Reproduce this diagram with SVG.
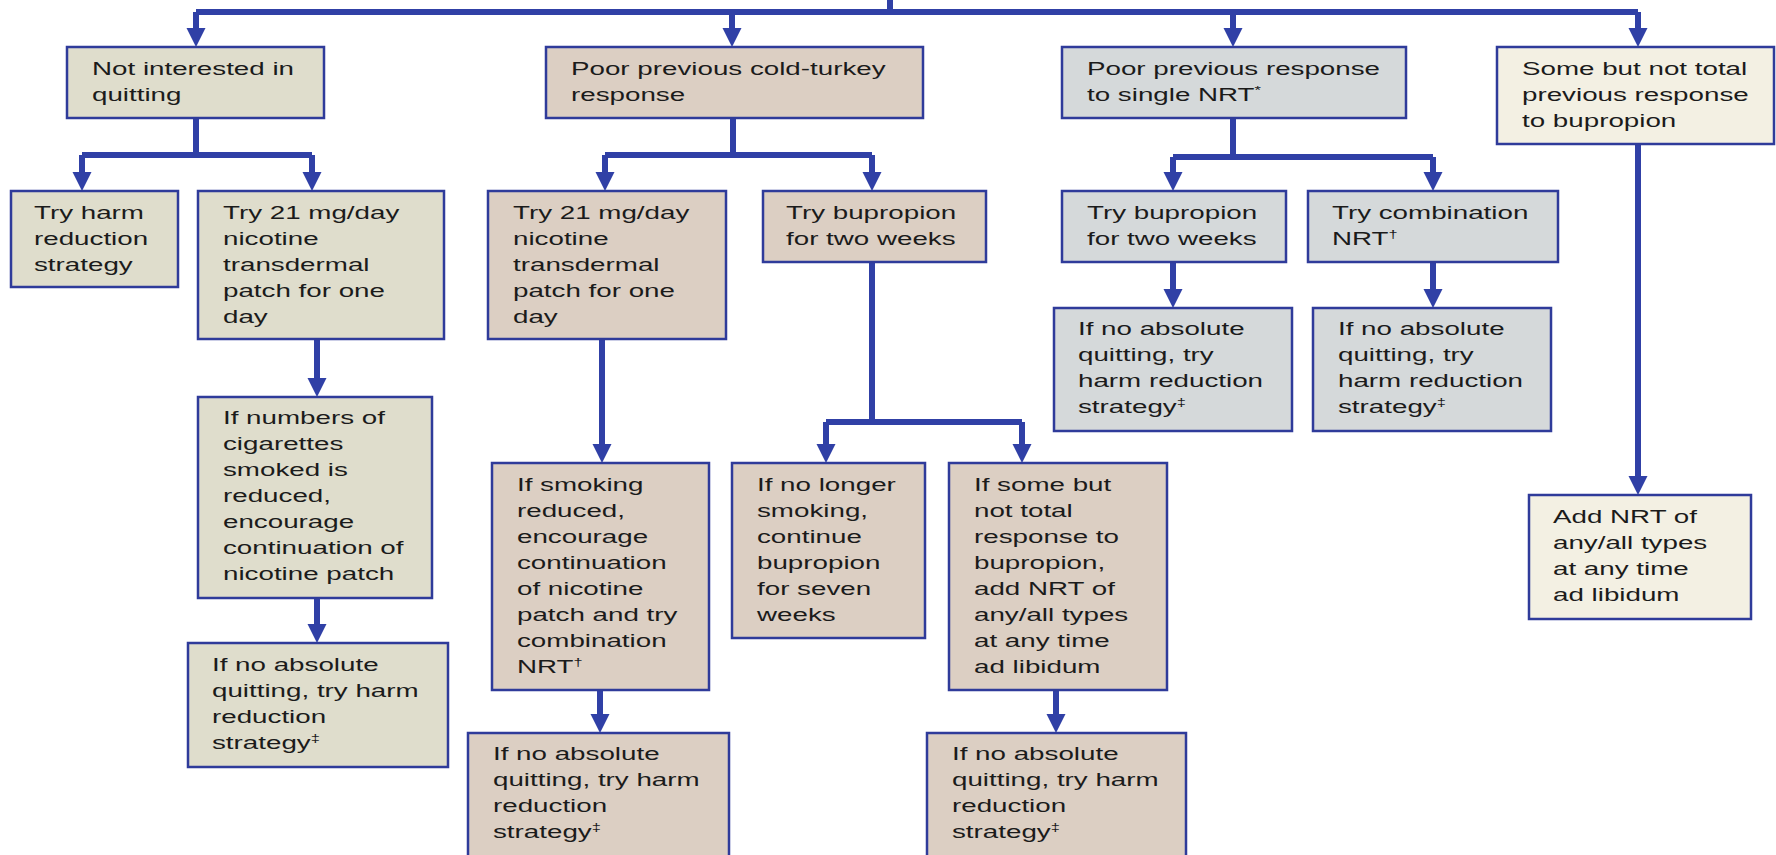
<svg xmlns="http://www.w3.org/2000/svg" width="1776" height="855" viewBox="0 0 1776 855">
<defs>
<marker id="ah" markerUnits="userSpaceOnUse" markerWidth="20" markerHeight="20" viewBox="0 -10 19 20" refX="0" refY="0" orient="auto">
<path d="M0,-9.5 L19,0 L0,9.5 z" fill="#3040a6"/>
</marker>
<style>
.c1{fill:#dfddcc}
.c2{fill:#dccfc3}
.c3{fill:#d5d9da}
.c4{fill:#f3f0e3}
.box{stroke:#2f3b9a;stroke-width:2.5}
.t{font-family:"Liberation Sans",Arial,Helvetica,sans-serif;font-size:18.5px;fill:#1b1b1b}
.sup{font-size:11px}
#connectors path{fill:none;stroke:#3040a6;stroke-width:6}
.arr{marker-end:url(#ah)}
</style>
</defs>
<rect x="0" y="0" width="1776" height="855" fill="#ffffff"/>

<g id="connectors">
<path d="M196,12 H1638"/>
<path d="M890,0 V12"/>
<path class="arr" d="M196,12 V28"/>
<path class="arr" d="M732,12 V28"/>
<path class="arr" d="M1233,12 V28"/>
<path class="arr" d="M1638,12 V28"/>
<path d="M196,118 V155 M82,155 H312"/>
<path class="arr" d="M82,155 V172"/>
<path class="arr" d="M312,155 V172"/>
<path class="arr" d="M317,339 V378"/>
<path class="arr" d="M317,598 V624"/>
<path d="M733,118 V155 M605,155 H872"/>
<path class="arr" d="M605,155 V172"/>
<path class="arr" d="M872,155 V172"/>
<path class="arr" d="M602,339 V444"/>
<path class="arr" d="M600,690 V714"/>
<path d="M872,262 V422 M826,422 H1022"/>
<path class="arr" d="M826,422 V444"/>
<path class="arr" d="M1022,422 V444"/>
<path class="arr" d="M1056,690 V714"/>
<path d="M1233,118 V157 M1173,157 H1433"/>
<path class="arr" d="M1173,157 V172"/>
<path class="arr" d="M1433,157 V172"/>
<path class="arr" d="M1173,262 V289"/>
<path class="arr" d="M1433,262 V289"/>
<path class="arr" d="M1638,144 V476"/>
</g>

<g id="n-not-interested">
<rect class="box c1" x="67" y="47" width="257" height="71"/>
<text class="t" transform="translate(92 75) scale(1.5 1)"><tspan x="0" y="0">Not interested in</tspan><tspan x="0" y="26">quitting</tspan></text>
</g>
<g id="n-try-harm">
<rect class="box c1" x="11" y="191" width="167" height="96"/>
<text class="t" transform="translate(34 219) scale(1.5 1)"><tspan x="0" y="0">Try harm</tspan><tspan x="0" y="26">reduction</tspan><tspan x="0" y="52">strategy</tspan></text>
</g>
<g id="n-try21-a">
<rect class="box c1" x="198" y="191" width="246" height="148"/>
<text class="t" transform="translate(223 219) scale(1.5 1)"><tspan x="0" y="0">Try 21 mg/day</tspan><tspan x="0" y="26">nicotine</tspan><tspan x="0" y="52">transdermal</tspan><tspan x="0" y="78">patch for one</tspan><tspan x="0" y="104">day</tspan></text>
</g>
<g id="n-if-numbers">
<rect class="box c1" x="198" y="397" width="234" height="201"/>
<text class="t" transform="translate(223 424) scale(1.5 1)"><tspan x="0" y="0">If numbers of</tspan><tspan x="0" y="26">cigarettes</tspan><tspan x="0" y="52">smoked is</tspan><tspan x="0" y="78">reduced,</tspan><tspan x="0" y="104">encourage</tspan><tspan x="0" y="130">continuation of</tspan><tspan x="0" y="156">nicotine patch</tspan></text>
</g>
<g id="n-noabs-a">
<rect class="box c1" x="188" y="643" width="260" height="124"/>
<text class="t" transform="translate(212 671) scale(1.5 1)"><tspan x="0" y="0">If no absolute</tspan><tspan x="0" y="26">quitting, try harm</tspan><tspan x="0" y="52">reduction</tspan><tspan x="0" y="78">strategy<tspan class="sup" dy="-7">‡</tspan></tspan></text>
</g>

<g id="n-cold-turkey">
<rect class="box c2" x="546" y="47" width="377" height="71"/>
<text class="t" transform="translate(571 75) scale(1.5 1)"><tspan x="0" y="0">Poor previous cold-turkey</tspan><tspan x="0" y="26">response</tspan></text>
</g>
<g id="n-try21-b">
<rect class="box c2" x="488" y="191" width="238" height="148"/>
<text class="t" transform="translate(513 219) scale(1.5 1)"><tspan x="0" y="0">Try 21 mg/day</tspan><tspan x="0" y="26">nicotine</tspan><tspan x="0" y="52">transdermal</tspan><tspan x="0" y="78">patch for one</tspan><tspan x="0" y="104">day</tspan></text>
</g>
<g id="n-bupropion-a">
<rect class="box c2" x="763" y="191" width="223" height="71"/>
<text class="t" transform="translate(786 219) scale(1.5 1)"><tspan x="0" y="0">Try bupropion</tspan><tspan x="0" y="26">for two weeks</tspan></text>
</g>
<g id="n-if-smoking">
<rect class="box c2" x="492" y="463" width="217" height="227"/>
<text class="t" transform="translate(517 491) scale(1.5 1)"><tspan x="0" y="0">If smoking</tspan><tspan x="0" y="26">reduced,</tspan><tspan x="0" y="52">encourage</tspan><tspan x="0" y="78">continuation</tspan><tspan x="0" y="104">of nicotine</tspan><tspan x="0" y="130">patch and try</tspan><tspan x="0" y="156">combination</tspan><tspan x="0" y="182">NRT<tspan class="sup" dy="-7">†</tspan></tspan></text>
</g>
<g id="n-no-longer">
<rect class="box c2" x="732" y="463" width="193" height="175"/>
<text class="t" transform="translate(757 491) scale(1.5 1)"><tspan x="0" y="0">If no longer</tspan><tspan x="0" y="26">smoking,</tspan><tspan x="0" y="52">continue</tspan><tspan x="0" y="78">bupropion</tspan><tspan x="0" y="104">for seven</tspan><tspan x="0" y="130">weeks</tspan></text>
</g>
<g id="n-some-but-b">
<rect class="box c2" x="949" y="463" width="218" height="227"/>
<text class="t" transform="translate(974 491) scale(1.5 1)"><tspan x="0" y="0">If some but</tspan><tspan x="0" y="26">not total</tspan><tspan x="0" y="52">response to</tspan><tspan x="0" y="78">bupropion,</tspan><tspan x="0" y="104">add NRT of</tspan><tspan x="0" y="130">any/all types</tspan><tspan x="0" y="156">at any time</tspan><tspan x="0" y="182">ad libidum</tspan></text>
</g>
<g id="n-noabs-b">
<rect class="box c2" x="468" y="733" width="261" height="140"/>
<text class="t" transform="translate(493 760) scale(1.5 1)"><tspan x="0" y="0">If no absolute</tspan><tspan x="0" y="26">quitting, try harm</tspan><tspan x="0" y="52">reduction</tspan><tspan x="0" y="78">strategy<tspan class="sup" dy="-7">‡</tspan></tspan></text>
</g>
<g id="n-noabs-c">
<rect class="box c2" x="927" y="733" width="259" height="140"/>
<text class="t" transform="translate(952 760) scale(1.5 1)"><tspan x="0" y="0">If no absolute</tspan><tspan x="0" y="26">quitting, try harm</tspan><tspan x="0" y="52">reduction</tspan><tspan x="0" y="78">strategy<tspan class="sup" dy="-7">‡</tspan></tspan></text>
</g>

<g id="n-single-nrt">
<rect class="box c3" x="1062" y="47" width="344" height="71"/>
<text class="t" transform="translate(1087 75) scale(1.5 1)"><tspan x="0" y="0">Poor previous response</tspan><tspan x="0" y="26">to single NRT<tspan class="sup" dy="-7">*</tspan></tspan></text>
</g>
<g id="n-bupropion-c">
<rect class="box c3" x="1062" y="191" width="224" height="71"/>
<text class="t" transform="translate(1087 219) scale(1.5 1)"><tspan x="0" y="0">Try bupropion</tspan><tspan x="0" y="26">for two weeks</tspan></text>
</g>
<g id="n-combination">
<rect class="box c3" x="1308" y="191" width="250" height="71"/>
<text class="t" transform="translate(1332 219) scale(1.5 1)"><tspan x="0" y="0">Try combination</tspan><tspan x="0" y="26">NRT<tspan class="sup" dy="-7">†</tspan></tspan></text>
</g>
<g id="n-noabs-d">
<rect class="box c3" x="1054" y="308" width="238" height="123"/>
<text class="t" transform="translate(1078 335) scale(1.5 1)"><tspan x="0" y="0">If no absolute</tspan><tspan x="0" y="26">quitting, try</tspan><tspan x="0" y="52">harm reduction</tspan><tspan x="0" y="78">strategy<tspan class="sup" dy="-7">‡</tspan></tspan></text>
</g>
<g id="n-noabs-e">
<rect class="box c3" x="1313" y="308" width="238" height="123"/>
<text class="t" transform="translate(1338 335) scale(1.5 1)"><tspan x="0" y="0">If no absolute</tspan><tspan x="0" y="26">quitting, try</tspan><tspan x="0" y="52">harm reduction</tspan><tspan x="0" y="78">strategy<tspan class="sup" dy="-7">‡</tspan></tspan></text>
</g>

<g id="n-some-but-prev">
<rect class="box c4" x="1497" y="47" width="277" height="97"/>
<text class="t" transform="translate(1522 75) scale(1.5 1)"><tspan x="0" y="0">Some but not total</tspan><tspan x="0" y="26">previous response</tspan><tspan x="0" y="52">to bupropion</tspan></text>
</g>
<g id="n-add-nrt">
<rect class="box c4" x="1529" y="495" width="222" height="124"/>
<text class="t" transform="translate(1553 523) scale(1.5 1)"><tspan x="0" y="0">Add NRT of</tspan><tspan x="0" y="26">any/all types</tspan><tspan x="0" y="52">at any time</tspan><tspan x="0" y="78">ad libidum</tspan></text>
</g>
</svg>
